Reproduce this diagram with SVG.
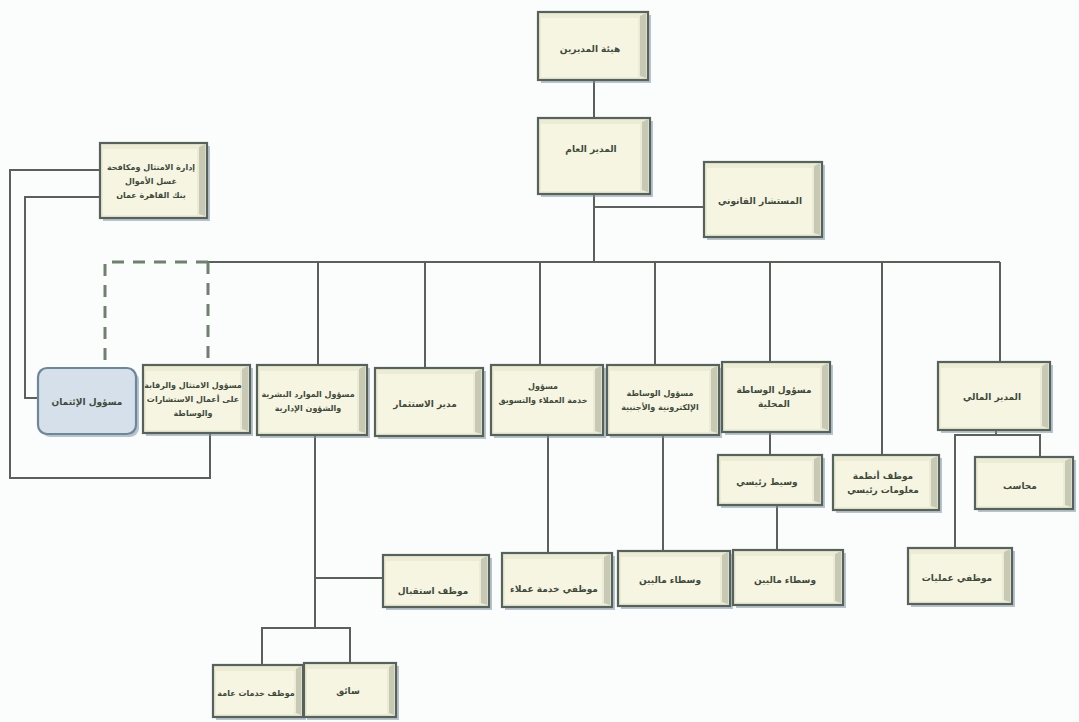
<svg xmlns="http://www.w3.org/2000/svg" width="1079" height="722" viewBox="0 0 1079 722">
<style>
.bg{fill:#fbfcfc}
.sh{fill:#7f93a6;opacity:0.55}
.box{fill:#ecebd3;stroke:#56625c;stroke-width:2.2}
.face{fill:#f6f5e1}
.side{fill:#c8c9b4}
.cr{fill:#d6e0ea;stroke:#6d8799;stroke-width:2.2}
.ln{fill:none;stroke:#5b605c;stroke-width:2}
.ds{fill:none;stroke:#6f806f;stroke-width:3;stroke-dasharray:12 9}
text{font-family:"DejaVu Sans","Noto Sans",sans-serif;font-size:9px;font-weight:bold;fill:#3e4a3c;text-anchor:middle}
text.s{font-size:8px}
</style>
<rect class="bg" x="0" y="0" width="1079" height="722"/>

<g id="connectors">
<path class="ln" d="M594,80 V118"/>
<path class="ln" d="M594,194 V262"/>
<path class="ln" d="M594,207 H704"/>
<path class="ln" d="M208,262 H1000"/>
<path class="ds" d="M208,262 H105 V368"/>
<path class="ds" d="M208,262 V365"/>
<path class="ln" d="M318,262 V365 M425,262 V368 M540,262 V365 M655,262 V365 M770,262 V362 M882,262 V455 M1000,262 V362"/>
<path class="ln" d="M100,170 H10 V478 H210 V433"/>
<path class="ln" d="M100,197 H25 V398 H38"/>
<path class="ln" d="M315,435 V628 M315,578 H383 M262,665 V628 H350 V663"/>
<path class="ln" d="M548,435 V553"/>
<path class="ln" d="M663,435 V551"/>
<path class="ln" d="M770,432 V455"/>
<path class="ln" d="M777,505 V550"/>
<path class="ln" d="M996,430 V435 M955,548 V435 H1040 V457"/>
</g>

<g id="n-board">
<rect class="sh" x="541" y="15" width="110" height="68"/>
<rect class="box" x="538" y="12" width="110" height="68"/>
<rect class="face" x="541" y="18" width="97" height="59"/>
<polygon class="side" points="640,16 646,13 646,78 640,76"/>
<text x="590" y="52">هيئة المديرين</text>
</g>

<g id="n-gm">
<rect class="sh" x="541" y="121" width="112" height="76"/>
<rect class="box" x="538" y="118" width="112" height="76"/>
<rect class="face" x="541" y="124" width="99" height="67"/>
<polygon class="side" points="642,122 648,119 648,192 642,190"/>
<text x="591" y="152">المدير العام</text>
</g>

<g id="n-legal">
<rect class="sh" x="707" y="165" width="118" height="75"/>
<rect class="box" x="704" y="162" width="118" height="75"/>
<rect class="face" x="707" y="168" width="105" height="66"/>
<polygon class="side" points="814,166 820,163 820,235 814,233"/>
<text x="760" y="204">المستشار القانوني</text>
</g>

<g id="n-bank">
<rect class="sh" x="103" y="146" width="107" height="75"/>
<rect class="box" x="100" y="143" width="107" height="75"/>
<rect class="face" x="103" y="149" width="94" height="66"/>
<polygon class="side" points="199,147 205,144 205,216 199,214"/>
<text class="s" x="151" y="170">إدارة الامتثال ومكافحة</text>
<text class="s" x="151" y="184">غسل الأموال</text>
<text class="s" x="151" y="198">بنك القاهرة عمان</text>
</g>

<g id="n-credit">
<rect class="sh" x="41" y="371" width="98" height="66" rx="9"/>
<rect class="cr" x="38" y="368" width="98" height="66" rx="9"/>
<text x="87" y="405">مسؤول الإئتمان</text>
</g>

<g id="n-comp">
<rect class="sh" x="146" y="368" width="107" height="68"/>
<rect class="box" x="143" y="365" width="107" height="68"/>
<rect class="face" x="146" y="371" width="94" height="59"/>
<polygon class="side" points="242,369 248,366 248,431 242,429"/>
<text class="s" x="193" y="388">مسؤول الامتثال والرقابة</text>
<text class="s" x="193" y="402">على أعمال الاستشارات</text>
<text class="s" x="193" y="416">والوساطة</text>
</g>

<g id="n-hr">
<rect class="sh" x="260" y="368" width="110" height="70"/>
<rect class="box" x="257" y="365" width="110" height="70"/>
<rect class="face" x="260" y="371" width="97" height="61"/>
<polygon class="side" points="359,369 365,366 365,433 359,431"/>
<text class="s" x="308" y="397">مسؤول الموارد البشرية</text>
<text class="s" x="308" y="411">والشؤون الإدارية</text>
</g>

<g id="n-inv">
<rect class="sh" x="378" y="371" width="108" height="68"/>
<rect class="box" x="375" y="368" width="108" height="68"/>
<rect class="face" x="378" y="374" width="95" height="59"/>
<polygon class="side" points="475,372 481,369 481,434 475,432"/>
<text x="425" y="407">مدير الاستثمار</text>
</g>

<g id="n-cs">
<rect class="sh" x="494" y="368" width="112" height="70"/>
<rect class="box" x="491" y="365" width="112" height="70"/>
<rect class="face" x="494" y="371" width="99" height="61"/>
<polygon class="side" points="595,369 601,366 601,433 595,431"/>
<text class="s" x="543" y="389">مسؤول</text>
<text class="s" x="543" y="403">خدمة العملاء والتسويق</text>
</g>

<g id="n-ebro">
<rect class="sh" x="610" y="368" width="112" height="70"/>
<rect class="box" x="607" y="365" width="112" height="70"/>
<rect class="face" x="610" y="371" width="99" height="61"/>
<polygon class="side" points="711,369 717,366 717,433 711,431"/>
<text class="s" x="660" y="396">مسؤول الوساطة</text>
<text class="s" x="660" y="410">الإلكترونية والأجنبية</text>
</g>

<g id="n-lbro">
<rect class="sh" x="725" y="365" width="108" height="70"/>
<rect class="box" x="722" y="362" width="108" height="70"/>
<rect class="face" x="725" y="368" width="95" height="61"/>
<polygon class="side" points="822,366 828,363 828,430 822,428"/>
<text x="774" y="393">مسؤول الوساطة</text>
<text x="774" y="407">المحلية</text>
</g>

<g id="n-fm">
<rect class="sh" x="941" y="365" width="112" height="68"/>
<rect class="box" x="938" y="362" width="112" height="68"/>
<rect class="face" x="941" y="368" width="99" height="59"/>
<polygon class="side" points="1042,366 1048,363 1048,428 1042,426"/>
<text x="992" y="400">المدير المالي</text>
</g>

<g id="n-chief">
<rect class="sh" x="721" y="458" width="104" height="50"/>
<rect class="box" x="718" y="455" width="104" height="50"/>
<rect class="face" x="721" y="461" width="91" height="41"/>
<polygon class="side" points="814,459 820,456 820,503 814,501"/>
<text x="767" y="485">وسيط رئيسي</text>
</g>

<g id="n-it">
<rect class="sh" x="836" y="458" width="106" height="55"/>
<rect class="box" x="833" y="455" width="106" height="55"/>
<rect class="face" x="836" y="461" width="93" height="46"/>
<polygon class="side" points="931,459 937,456 937,508 931,506"/>
<text x="883" y="479">موظف أنظمة</text>
<text x="883" y="493">معلومات رئيسي</text>
</g>

<g id="n-acc">
<rect class="sh" x="978" y="460" width="98" height="52"/>
<rect class="box" x="975" y="457" width="98" height="52"/>
<rect class="face" x="978" y="463" width="85" height="43"/>
<polygon class="side" points="1065,461 1071,458 1071,507 1065,505"/>
<text x="1020" y="489">محاسب</text>
</g>

<g id="n-ops">
<rect class="sh" x="911" y="551" width="104" height="56"/>
<rect class="box" x="908" y="548" width="104" height="56"/>
<rect class="face" x="911" y="554" width="91" height="47"/>
<polygon class="side" points="1004,552 1010,549 1010,602 1004,600"/>
<text x="957" y="581">موظفي عمليات</text>
</g>

<g id="n-recep">
<rect class="sh" x="386" y="558" width="106" height="52"/>
<rect class="box" x="383" y="555" width="106" height="52"/>
<rect class="face" x="386" y="561" width="93" height="43"/>
<polygon class="side" points="481,559 487,556 487,605 481,603"/>
<text x="433" y="594">موظف استقبال</text>
</g>

<g id="n-csemp">
<rect class="sh" x="505" y="556" width="110" height="54"/>
<rect class="box" x="502" y="553" width="110" height="54"/>
<rect class="face" x="505" y="559" width="97" height="45"/>
<polygon class="side" points="604,557 610,554 610,605 604,603"/>
<text x="554" y="592">موظفي خدمة عملاء</text>
</g>

<g id="n-brok1">
<rect class="sh" x="621" y="554" width="112" height="55"/>
<rect class="box" x="618" y="551" width="112" height="55"/>
<rect class="face" x="621" y="557" width="99" height="46"/>
<polygon class="side" points="722,555 728,552 728,604 722,602"/>
<text x="670" y="583">وسطاء ماليين</text>
</g>

<g id="n-brok2">
<rect class="sh" x="736" y="553" width="110" height="55"/>
<rect class="box" x="733" y="550" width="110" height="55"/>
<rect class="face" x="736" y="556" width="97" height="46"/>
<polygon class="side" points="835,554 841,551 841,603 835,601"/>
<text x="785" y="583">وسطاء ماليين</text>
</g>

<g id="n-gen">
<rect class="sh" x="216" y="668" width="90" height="52"/>
<rect class="box" x="213" y="665" width="90" height="52"/>
<rect class="face" x="216" y="671" width="78" height="43"/>
<polygon class="side" points="296,669 301,666 301,715 296,713"/>
<text class="s" x="256" y="696">موظف خدمات عامة</text>
</g>

<g id="n-driver">
<rect class="sh" x="307" y="666" width="92" height="54"/>
<rect class="box" x="304" y="663" width="92" height="54"/>
<rect class="face" x="307" y="669" width="80" height="45"/>
<polygon class="side" points="389,667 394,664 394,715 389,713"/>
<text x="348" y="694">سائق</text>
</g>
</svg>
